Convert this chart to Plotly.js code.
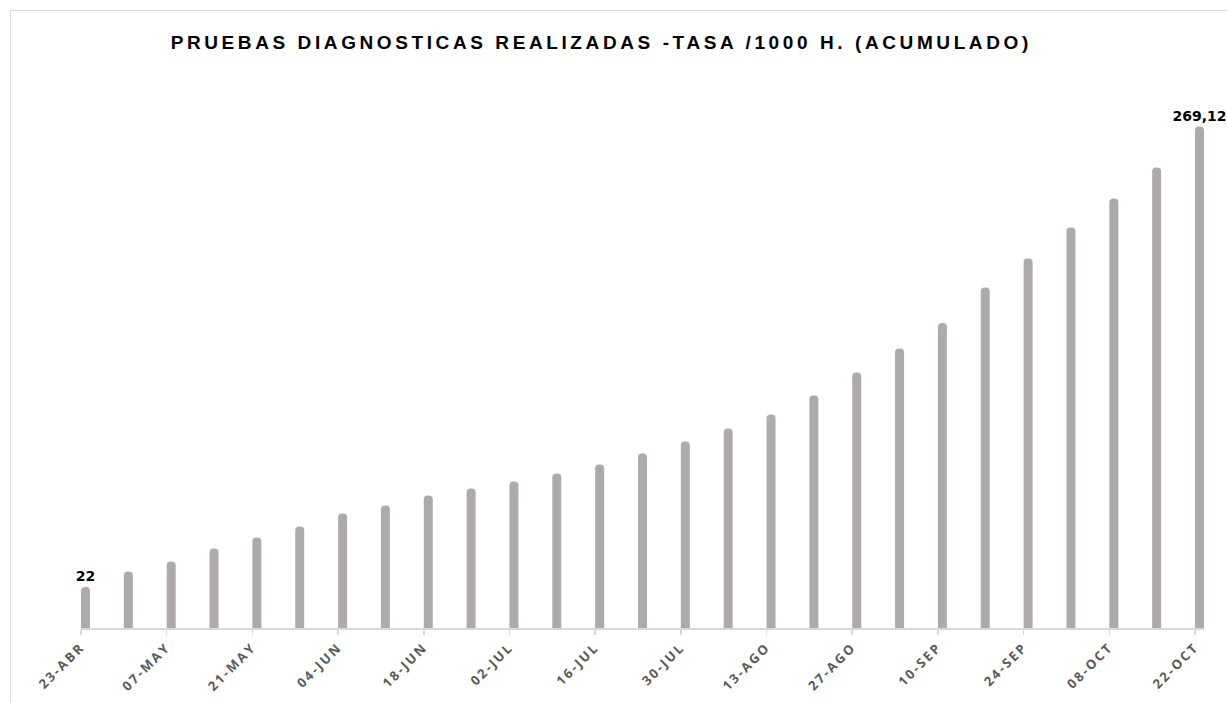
<!DOCTYPE html>
<html>
<head>
<meta charset="utf-8">
<script src="https://cdn.plot.ly/plotly-3.0.1.min.js"></script>
<style>
  html, body { margin: 0; padding: 0; background: #ffffff; overflow: hidden; }
  #wrap { position: relative; width: 1227px; height: 703px; }
  #chart { position: absolute; left: 0; top: 0; width: 1227px; height: 703px; }
  #frame { position: absolute; left: 10px; top: 10px; width: 3000px; height: 3000px;
           border-left: 1.5px solid #d9d9d9; border-top: 1.5px solid #d9d9d9; pointer-events: none; }
  .gtitle { letter-spacing: 3.6px; }
  .xtick text { letter-spacing: 2.2px; }
</style>
</head>
<body>
<div id="wrap">
  <div id="chart"></div>
  <div id="frame"></div>
</div>
<script>
// Fechas semanales (categorías)
const fechas = [
  "23-ABR","30-ABR","07-MAY","14-MAY","21-MAY","28-MAY","04-JUN","11-JUN","18-JUN",
  "25-JUN","02-JUL","09-JUL","16-JUL","23-JUL","30-JUL","06-AGO","13-AGO","20-AGO",
  "27-AGO","03-SEP","10-SEP","17-SEP","24-SEP","01-OCT","08-OCT","15-OCT","22-OCT"
];
// Tasa acumulada de pruebas diagnósticas por 1000 habitantes
const tasa = [
  22, 30.3, 35.7, 42.7, 48.6, 54.5, 61.4, 65.7, 71.1,
  74.9, 78.6, 82.9, 87.7, 93.6, 100.1, 107.1, 114.6, 124.8,
  137.1, 150.0, 163.7, 182.7, 198.3, 214.9, 230.5, 247.1, 269.12
];
// Etiquetas de datos: sólo primer y último valor
const etiquetas = tasa.map((v, i) =>
  (i === 0 || i === tasa.length - 1) ? String(v).replace('.', ',') : '');
// Etiquetas del eje (cada dos semanas)
const ticksEje = fechas.filter((f, i) => i % 2 === 0);

const trace = {
  type: 'bar',
  x: fechas,
  y: tasa,
  text: etiquetas,
  textposition: 'outside',
  cliponaxis: false,
  constraintext: 'none',
  textfont: { family: 'DejaVu Sans, Liberation Sans, sans-serif', size: 14, color: '#000000', weight: 'bold' },
  width: 0.21,
  offset: 0,
  marker: { color: '#aeaaaa', cornerradius: 4, line: { width: 0 } },
  hoverinfo: 'x+y'
};

const layout = {
  width: 1227,
  height: 703,
  paper_bgcolor: 'rgba(0,0,0,0)',
  plot_bgcolor: 'rgba(0,0,0,0)',
  margin: { l: 81, r: 23, t: 80, b: 75 },
  title: {
    text: 'PRUEBAS DIAGNOSTICAS REALIZADAS -TASA /1000 H. (ACUMULADO)',
    x: 0.49, xanchor: 'center',
    y: 0.94, yanchor: 'middle',
    font: { family: 'Liberation Sans Narrow, Liberation Sans, Arial, sans-serif', size: 19, color: '#000000', weight: 'bold' }
  },
  showlegend: false,
  xaxis: {
    type: 'category',
    range: [0, 26.21],
    tickmode: 'array',
    tickvals: ticksEje,
    ticktext: ticksEje,
    tickangle: -45,
    ticks: 'outside',
    ticklen: 5,
    tickwidth: 1.5,
    tickcolor: '#d9d9d9',
    showline: true,
    linecolor: '#d9d9d9',
    linewidth: 1.5,
    showgrid: false,
    zeroline: false,
    tickfont: { family: 'Open Sans, DejaVu Sans, sans-serif', size: 13, color: '#595959', weight: 'bold' },
    fixedrange: true
  },
  yaxis: {
    range: [0, 294.1],
    visible: false,
    showgrid: false,
    zeroline: false,
    fixedrange: true
  }
};

Plotly.newPlot('chart', [trace], layout, { displayModeBar: false, staticPlot: true });
</script>
</body>
</html>
